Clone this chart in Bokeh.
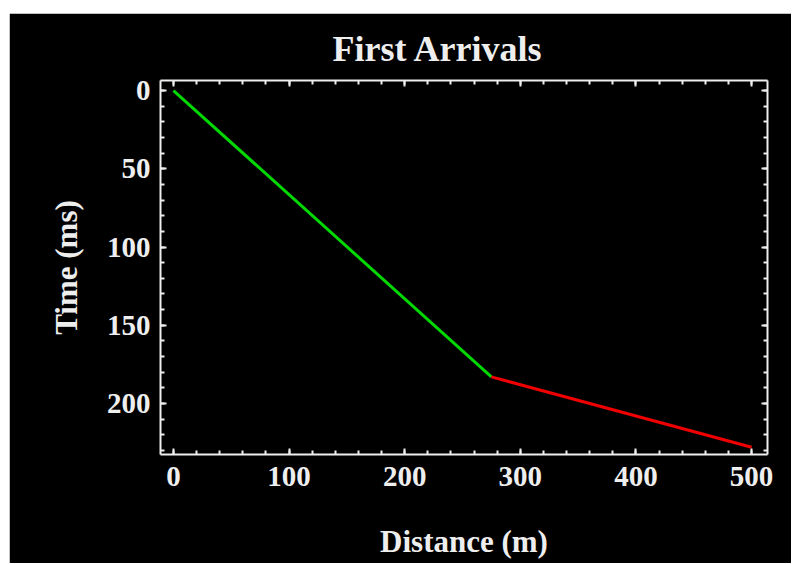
from bokeh.plotting import figure
from bokeh.models import Range1d, LinearAxis, SingleIntervalTicker, CustomJSTickFormatter
from bokeh.embed import file_html
from bokeh.resources import INLINE

# Data
direct_x = [0, 275]        # distance (m), direct wave (green)
direct_t = [0, 183]        # time (ms)
refr_x = [275, 500]        # distance (m), refracted wave (red)
refr_t = [183, 228]        # time (ms)

FONT = "Liberation Serif"
FG = "#eeeeee"

p = figure(width=782, height=550, output_backend="svg", toolbar_location=None,
           x_range=Range1d(-11.2, 513.8), y_range=Range1d(232.6, -6.4),
           x_axis_label="Distance (m)", y_axis_label="Time (ms)",
           min_border_left=151, min_border_top=67, min_border_right=24,
           min_border_bottom=109, margin=(13, 0, 0, 9))
p.background_fill_color = "black"
p.border_fill_color = "black"
p.outline_line_color = None
p.grid.visible = False

p.title.text = "First Arrivals"
p.title.text_font = FONT
p.title.text_font_size = "36px"
p.title.text_font_style = "bold"
p.title.text_color = FG
p.title.align = "left"
p.title.offset = 172
p.title.standoff = 23

p.line(direct_x, direct_t, line_color="#00d800", line_width=3)
p.line(refr_x, refr_t, line_color="#f00000", line_width=3)

xt = SingleIntervalTicker(interval=100, num_minor_ticks=5)
yt = SingleIntervalTicker(interval=50, num_minor_ticks=5)
bottom_axis = p.below[0]
left_axis = p.left[0]
bottom_axis.ticker = xt
left_axis.ticker = yt

blank = CustomJSTickFormatter(code="return ''")
top_axis = LinearAxis(ticker=xt, formatter=blank)
right_axis = LinearAxis(ticker=yt, formatter=blank)
p.add_layout(top_axis, "above")
p.add_layout(right_axis, "right")

for ax in (bottom_axis, left_axis, top_axis, right_axis):
    ax.axis_line_color = FG
    ax.axis_line_width = 2
    ax.major_tick_line_color = FG
    ax.minor_tick_line_color = FG
    ax.major_tick_line_width = 2
    ax.minor_tick_line_width = 2
    ax.major_tick_in = 6
    ax.major_tick_out = 0
    ax.minor_tick_in = 4
    ax.minor_tick_out = 0
    ax.major_label_text_font = FONT
    ax.major_label_text_font_style = "bold"
    ax.major_label_text_font_size = "29px"
    ax.major_label_text_color = FG
    ax.axis_label_text_font = FONT
    ax.axis_label_text_font_style = "bold"
    ax.axis_label_text_font_size = "31px"
    ax.axis_label_text_color = FG

for ax in (top_axis, right_axis):
    ax.major_label_standoff = 0
    ax.major_label_text_font_size = "1px"

bottom_axis.major_label_standoff = 12
bottom_axis.axis_label_standoff = 35
left_axis.major_label_standoff = 10
left_axis.axis_label_standoff = 20

open("out.html", "w").write(file_html(p, INLINE))
